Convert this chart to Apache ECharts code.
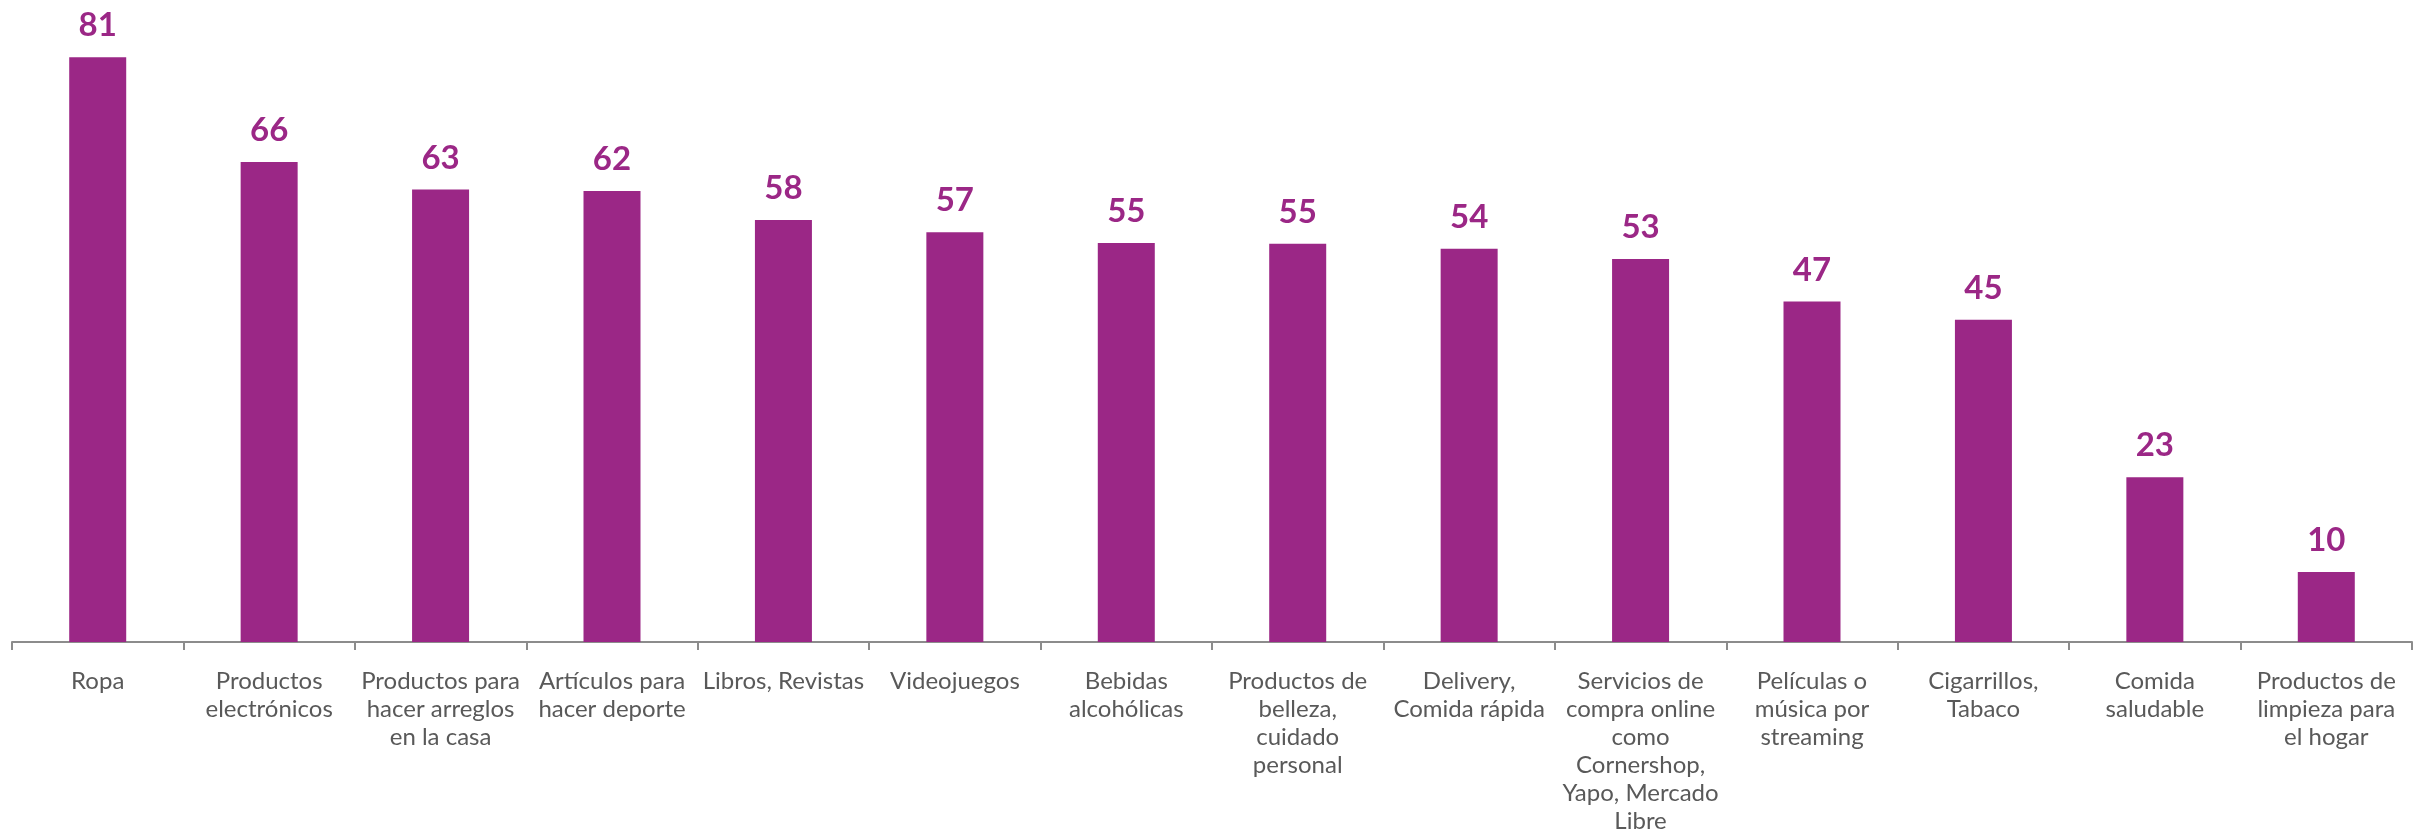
<!DOCTYPE html>
<html>
<head>
<meta charset="utf-8">
<script src="https://cdn.jsdelivr.net/npm/echarts@6/dist/echarts.min.js"></script>
<style>
html,body{margin:0;padding:0;background:#fff;}
#c{width:2433px;height:835px;}
</style>
</head>
<body>
<div id="c"></div>
<script>
const categories = [
  "Ropa",
  "Productos\nelectrónicos",
  "Productos para\nhacer arreglos\nen la casa",
  "Artículos para\nhacer deporte",
  "Libros, Revistas",
  "Videojuegos",
  "Bebidas\nalcohólicas",
  "Productos de\nbelleza,\ncuidado\npersonal",
  "Delivery,\nComida rápida",
  "Servicios de\ncompra online\ncomo\nCornershop,\nYapo, Mercado\nLibre",
  "Películas o\nmúsica por\nstreaming",
  "Cigarrillos,\nTabaco",
  "Comida\nsaludable",
  "Productos de\nlimpieza para\nel hogar"
];
// bar heights (labels show them rounded)
const values = [80.9, 66.4, 62.6, 62.4, 58.4, 56.7, 55.2, 55.1, 54.4, 53.0, 47.1, 44.6, 22.8, 9.7];

const purple = '#9B2786';
const chart = echarts.init(document.getElementById('c'), null, {renderer: 'canvas'});
chart.setOption({
  animation: false,
  backgroundColor: '#ffffff',
  grid: {left: 12, right: 21, top: 6, bottom: 190, containLabel: false},
  xAxis: {
    type: 'category',
    data: categories,
    boundaryGap: true,
    axisLine: {show: true, lineStyle: {color: '#8c8c8c', width: 2}},
    axisTick: {show: true, length: 8, lineStyle: {color: '#8c8c8c', width: 2}, alignWithLabel: false},
    axisLabel: {
      interval: 0,
      margin: 25,
      color: '#595959',
      fontFamily: 'Lato',
      fontSize: 24,
      lineHeight: 28,
      align: 'center'
    }
  },
  yAxis: {
    type: 'value',
    min: 0,
    max: 88,
    show: false,
    splitLine: {show: false}
  },
  series: [{
    type: 'bar',
    data: values,
    barWidth: 57,
    itemStyle: {color: purple},
    label: {
      show: true,
      position: 'top',
      distance: 15,
      color: purple,
      fontFamily: 'Lato',
      fontWeight: 'bold',
      fontSize: 33,
      formatter: p => String(Math.round(p.value))
    }
  }]
});
</script>
</body>
</html>
